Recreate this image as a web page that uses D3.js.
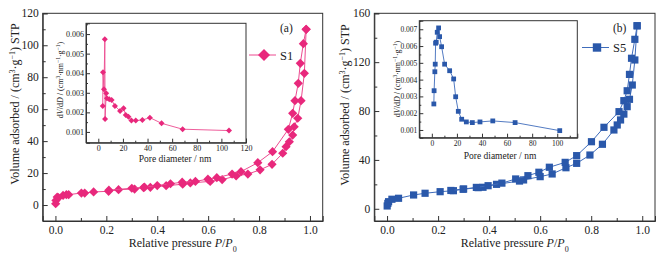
<!DOCTYPE html>
<html>
<head>
<meta charset="utf-8">
<script src="https://cdn.jsdelivr.net/npm/d3@7"></script>
<style>
  body { margin: 0; background: #fff; }
  text { font-family: "Liberation Serif", "Times New Roman", serif; fill: #222; }
</style>
</head>
<body>
<svg id="chart" width="671" height="257"></svg>
<script>
// --- S1 isotherm (adsorption / desorption) ---
const s1AdsP = [0.001, 0.002, 0.007, 0.012, 0.03, 0.043, 0.052, 0.102, 0.115, 0.15, 0.209, 0.248, 0.311, 0.346, 0.373, 0.435, 0.50, 0.53, 0.608, 0.655, 0.71, 0.756, 0.804, 0.851, 0.893, 0.906, 0.919, 0.932, 0.938, 0.952, 0.965, 0.978, 0.985];
const s1AdsV = [0.8, 2.9, 5, 4.6, 6, 6.5, 6.5, 7.5, 7.5, 8.2, 8.6, 9.6, 10, 10.9, 11.1, 12.1, 13, 13.8, 14.8, 15.9, 18.2, 19.4, 22, 25.5, 32.4, 36.5, 39.6, 43.8, 49, 54.3, 65.3, 82.4, 110];
const s1DesP = [0.985, 0.974, 0.962, 0.954, 0.941, 0.932, 0.915, 0.853, 0.795, 0.729, 0.694, 0.634, 0.599, 0.55, 0.498, 0.452, 0.40, 0.35, 0.30, 0.21];
const s1DesV = [110, 101, 88.7, 76.2, 65.3, 57.4, 47.4, 33.4, 26.5, 20.9, 19.4, 17.1, 16.2, 14.8, 14.3, 13.3, 12.2, 11.2, 10.5, 9.3];

// --- S1 pore size distribution ---
const s1PoreD = [3.6, 3.8, 4.6, 5.3, 5.5, 6.4, 7.0, 8.9, 10.8, 13.5, 17.7, 20.5, 22.3, 24.5, 26.9, 30.4, 35.8, 41.9, 51.4, 68.5, 106.2];
const s1PoreV = [0.00233, 0.00405, 0.00318, 0.00573, 0.00166, 0.00297, 0.00272, 0.00267, 0.00263, 0.00233, 0.00207, 0.00221, 0.00187, 0.00178, 0.00158, 0.00158, 0.00161, 0.00173, 0.00144, 0.00114, 0.00107];

// --- S5 isotherm ---
const s5AdsP = [0.0005, 0.003, 0.006, 0.019, 0.045, 0.104, 0.149, 0.208, 0.26, 0.298, 0.357, 0.376, 0.429, 0.519, 0.535, 0.600, 0.647, 0.701, 0.743, 0.795, 0.844, 0.889, 0.902, 0.915, 0.928, 0.941, 0.950, 0.961, 0.971, 0.980];
const s5AdsV = [2.3, 4.4, 5.8, 7.8, 8.6, 11.3, 12.7, 14, 14.8, 16, 17.3, 17.6, 20, 22.7, 23.6, 26.3, 28.5, 33.6, 37.2, 44, 52.8, 64.5, 68.6, 72.7, 77.5, 83.6, 89.6, 101.3, 121.8, 149.8];
const s5DesP = [0.980, 0.971, 0.958, 0.950, 0.941, 0.928, 0.909, 0.850, 0.801, 0.743, 0.698, 0.636, 0.595, 0.552, 0.504, 0.45, 0.396, 0.35, 0.30, 0.25];
const s5DesV = [149.8, 138.7, 123.2, 110, 96.6, 88.5, 79.5, 66.7, 54.9, 43.5, 38, 34, 29.9, 27.1, 24.4, 21, 18.9, 17.5, 16.2, 15];

// --- S5 pore size distribution ---
const s5PoreD = [1.6, 1.8, 2.4, 2.7, 3.0, 3.5, 4.3, 5.4, 6.2, 7.8, 10.2, 14.2, 17.4, 19, 21.1, 23.8, 27.5, 32.3, 38.4, 48.6, 66.4, 102];
const s5PoreV = [0.00255, 0.00334, 0.00447, 0.00492, 0.00617, 0.00623, 0.00682, 0.00708, 0.00656, 0.00596, 0.00492, 0.00453, 0.00404, 0.00298, 0.00211, 0.00164, 0.00148, 0.00144, 0.00148, 0.00154, 0.00144, 0.00096];

// --- tick values ---
const pressTicks = [0, 0.2, 0.4, 0.6, 0.8, 1.0];
const s1VolTicks = [0, 20, 40, 60, 80, 100, 120];
const s5VolTicks = [0, 40, 80, 120, 160];
const s1PoreTicks = [0, 20, 40, 60, 80, 100, 120];
const s5PoreTicks = [0, 20, 40, 60, 80, 100];
const s1DvTicks = [0.001, 0.002, 0.003, 0.004, 0.005, 0.006];
const s5DvTicks = [0.001, 0.002, 0.003, 0.004, 0.005, 0.006, 0.007];

const svg = d3.select("#chart");

// ô vuông xoay 45° = hình thoi
function markerPath(shape, size) {
  if (shape === "diamond") {
    return `M0,${-size}L${size},0L0,${size}L${-size},0Z`;
  }
  return `M${-size},${-size}H${size}V${size}H${-size}Z`;
}

function addAxes(g, x, y, box, o) {
  const w = box.x1 - box.x0, h = box.y1 - box.y0;
  // minor ticks
  g.append("g").attr("transform", `translate(0,${h})`)
    .call(d3.axisBottom(x).tickValues(o.xMinor).tickSize(-o.minor).tickFormat(""))
    .call(a => a.select(".domain").remove());
  g.append("g")
    .call(d3.axisLeft(y).tickValues(o.yMinor).tickSize(-o.minor).tickFormat(""))
    .call(a => a.select(".domain").remove());
  // major
  g.append("g").attr("transform", `translate(0,${h})`)
    .call(d3.axisBottom(x).tickValues(o.xTicks).tickSize(-o.major).tickPadding(o.pad).tickFormat(o.xFmt))
    .call(a => a.selectAll("text").style("font-size", o.fs + "px").attr("fill", "#222"));
  g.append("g")
    .call(d3.axisLeft(y).tickValues(o.yTicks).tickSize(-o.major).tickPadding(o.padY).tickFormat(o.yFmt))
    .call(a => a.selectAll("text").style("font-size", o.fs + "px").attr("fill", "#222"));
  g.selectAll(".domain, .tick line").attr("stroke", "#333");
  // frame
  g.append("rect").attr("width", w).attr("height", h)
    .attr("fill", "none").attr("stroke", "#333").attr("stroke-width", 1);
}

function drawSeries(g, x, y, xs, ys, c) {
  const pts = xs.map((v, i) => [v, ys[i]]);
  g.append("path").datum(pts)
    .attr("fill", "none").attr("stroke", c.line).attr("stroke-width", c.lw)
    .attr("d", d3.line().x(d => x(d[0])).y(d => y(d[1])));
  g.selectAll(null).data(pts).enter().append("path")
    .attr("transform", d => `translate(${x(d[0])},${y(d[1])})`)
    .attr("d", markerPath(c.shape, c.size))
    .attr("fill", c.fill);
}

function drawPanel(p) {
  const b = p.box;
  const g = svg.append("g").attr("transform", `translate(${b.x0},${b.y0})`);
  const x = d3.scaleLinear().domain([-0.05, 1.05]).range([0, b.x1 - b.x0]);
  const y = d3.scaleLinear().domain(p.yDomain).range([b.y1 - b.y0, 0]);

  addAxes(g, x, y, b, {
    xTicks: pressTicks, yTicks: p.yTicks,
    xMinor: d3.range(0.1, 1.0, 0.2), yMinor: p.yMinor,
    major: 5, minor: 3, pad: 5, padY: 4, fs: 11.5,
    xFmt: d3.format(".1f"), yFmt: d3.format("d")
  });

  drawSeries(g, x, y, p.adsP, p.adsV, {line: p.lineColor, lw: 1, shape: p.shape, size: p.size, fill: p.color});
  drawSeries(g, x, y, p.desP, p.desV, {line: p.lineColor, lw: 1, shape: p.shape, size: p.size, fill: p.color});

  // Inset
  const ib = p.inset;
  const ig = svg.append("g").attr("transform", `translate(${ib.x0},${ib.y0})`);
  ig.append("rect").attr("width", ib.x1 - ib.x0).attr("height", ib.y1 - ib.y0).attr("fill", "#fff");
  const ix = d3.scaleLinear().domain(p.insetX).range([0, ib.x1 - ib.x0]);
  const iy = d3.scaleLinear().domain(p.insetY).range([ib.y1 - ib.y0, 0]);
  addAxes(ig, ix, iy, ib, {
    xTicks: p.insetXTicks, yTicks: p.insetYTicks,
    xMinor: p.insetXTicks.map(d => d + 10).filter(d => d < p.insetX[1]),
    yMinor: p.insetYTicks.map(d => d + 0.0005).filter(d => d < p.insetY[1]),
    major: 4, minor: 2, pad: 3, padY: 2, fs: p.insetFs,
    xFmt: d3.format("d"), yFmt: d3.format(".3f")
  });
  drawSeries(ig, ix, iy, p.poreD, p.poreV, {line: p.lineColor, lw: 0.9, shape: p.shape, size: p.insetSize, fill: p.color});

  // inset titles
  svg.append("text").attr("x", p.insetXTitle[0]).attr("y", p.insetXTitle[1])
    .attr("text-anchor", "middle").style("font-size", "9.5px").text("Pore diameter / nm");
  const it = svg.append("text")
    .attr("transform", `translate(${p.insetYTitle[0]},${p.insetYTitle[1]}) rotate(-90)`)
    .attr("text-anchor", "middle").style("font-size", "8px");
  it.append("tspan").text("d");
  it.append("tspan").style("font-style", "italic").text("V");
  it.append("tspan").text("/d");
  it.append("tspan").style("font-style", "italic").text("D");
  it.append("tspan").text(" / (cm");
  it.append("tspan").attr("baseline-shift", "super").style("font-size", "5.5px").text("3");
  it.append("tspan").text("·nm");
  it.append("tspan").attr("baseline-shift", "super").style("font-size", "5.5px").text("−1");
  it.append("tspan").text("·g");
  it.append("tspan").attr("baseline-shift", "super").style("font-size", "5.5px").text("−1");
  it.append("tspan").text(")");

  // main axis titles
  const xt = svg.append("text").attr("x", (b.x0 + b.x1) / 2).attr("y", 247)
    .attr("text-anchor", "middle").style("font-size", "12px");
  xt.append("tspan").text("Relative pressure ");
  xt.append("tspan").style("font-style", "italic").text("P");
  xt.append("tspan").text("/");
  xt.append("tspan").style("font-style", "italic").text("P");
  xt.append("tspan").attr("baseline-shift", "sub").style("font-size", "8px").text("0");

  const yt = svg.append("text")
    .attr("transform", `translate(${p.yTitle[0]},${p.yTitle[1]}) rotate(-90)`)
    .attr("text-anchor", "middle").style("font-size", "12px");
  yt.append("tspan").text("Volume adsorbed / (cm");
  yt.append("tspan").attr("baseline-shift", "super").style("font-size", "8px").text("3");
  yt.append("tspan").text("·g");
  yt.append("tspan").attr("baseline-shift", "super").style("font-size", "8px").text("−1");
  yt.append("tspan").text(") STP");

  // legend
  const lg = svg.append("g").attr("transform", `translate(${p.legend[0]},${p.legend[1]})`);
  lg.append("line").attr("x1", -15).attr("x2", 12).attr("stroke", p.lineColor).attr("stroke-width", 1);
  lg.append("path").attr("d", markerPath(p.shape, p.legendSize)).attr("fill", p.color);
  lg.append("text").attr("x", 16).attr("y", 4.5).style("font-size", "12.5px").text(p.name);

  svg.append("text").attr("x", p.tag[0]).attr("y", p.tag[1]).style("font-size", "11.5px").text(p.tagText);
}

drawPanel({
  box: {x0: 42.7, x1: 322.7, y0: 13.3, y1: 221},
  yDomain: [-10, 120], yTicks: s1VolTicks, yMinor: [10, 30, 50, 70, 90, 110],
  adsP: s1AdsP, adsV: s1AdsV, desP: s1DesP, desV: s1DesV,
  color: "#e8287c", lineColor: "#ec4b90", shape: "diamond", size: 4.6, insetSize: 3, legendSize: 6,
  inset: {x0: 86, x1: 246, y0: 23.3, y1: 142.7},
  insetX: [-10, 120], insetY: [0.00045, 0.00655],
  insetXTicks: s1PoreTicks, insetYTicks: s1DvTicks, insetFs: 8,
  poreD: s1PoreD, poreV: s1PoreV,
  insetXTitle: [175, 162], insetYTitle: [63, 80],
  yTitle: [19, 104],
  legend: [264, 55], name: "S1",
  tag: [280, 32], tagText: "(a)"
});

drawPanel({
  box: {x0: 374.3, x1: 655, y0: 13.3, y1: 221},
  yDomain: [-10, 160], yTicks: s5VolTicks, yMinor: [20, 60, 100, 140],
  adsP: s5AdsP, adsV: s5AdsV, desP: s5DesP, desV: s5DesV,
  color: "#2a58aa", lineColor: "#3f6cbb", shape: "square", size: 3.6, insetSize: 2.4, legendSize: 4.2,
  inset: {x0: 419.3, x1: 577.3, y0: 20.7, y1: 137.7},
  insetX: [-10, 116], insetY: [0.00054, 0.00751],
  insetXTicks: s5PoreTicks, insetYTicks: s5DvTicks, insetFs: 7.5,
  poreD: s5PoreD, poreV: s5PoreV,
  insetXTitle: [500, 158.5], insetYTitle: [400, 79],
  yTitle: [349, 105],
  legend: [597, 47.5], name: "S5",
  tag: [613, 31.5], tagText: "(b)"
});
</script>
</body>
</html>
